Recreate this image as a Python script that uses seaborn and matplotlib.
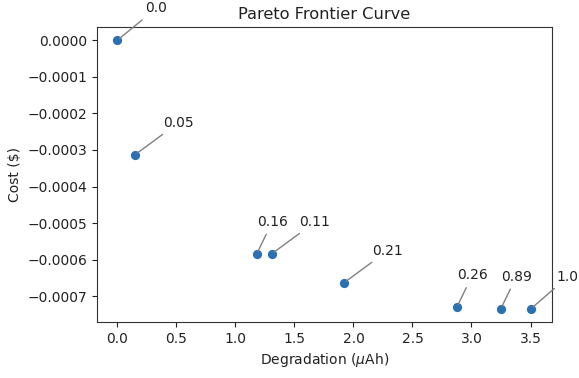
import matplotlib
matplotlib.use("Agg")
import matplotlib.pyplot as plt
import seaborn as sns
import pandas as pd

# Data
degradation = [0.0, 0.150, 1.181, 1.308, 1.921, 2.876, 3.249, 3.505]
cost = [0.0, -0.000313, -0.000584, -0.000584, -0.000663, -0.000730, -0.000734, -0.000734]
labels = ["0.0", "0.05", "0.16", "0.11", "0.21", "0.26", "0.89", "1.0"]
label_dx = [20, 20, 0, 20, 20, 0, 0, 18.5]

df = pd.DataFrame({"Degradation": degradation, "Cost": cost, "label": labels})

fig = plt.figure(figsize=(5.79, 3.78), dpi=100)
ax = fig.add_axes([0.167, 0.148, 0.786, 0.781])

sns.scatterplot(data=df, x="Degradation", y="Cost", ax=ax, color="#2a70b2",
                s=44, linewidth=0, zorder=3)

for xv, yv, lab, dx in zip(df["Degradation"], df["Cost"], df["label"], label_dx):
    ax.annotate(lab, xy=(xv, yv), xytext=(dx, 20), textcoords="offset points",
                fontsize=10, color="#222222",
                arrowprops=dict(arrowstyle="-", color="#808080", lw=1))

ax.set_title("Pareto Frontier Curve", fontsize=11.7, color="#222222")
ax.set_xlabel(r"Degradation ($\mu$Ah)", fontsize=10, color="#222222")
ax.set_ylabel("Cost ($)", fontsize=10, color="#222222")
ax.tick_params(labelsize=10, colors="#222222")
for sp in ax.spines.values():
    sp.set_color("#333333")

fig.savefig("out.png", dpi=100)
